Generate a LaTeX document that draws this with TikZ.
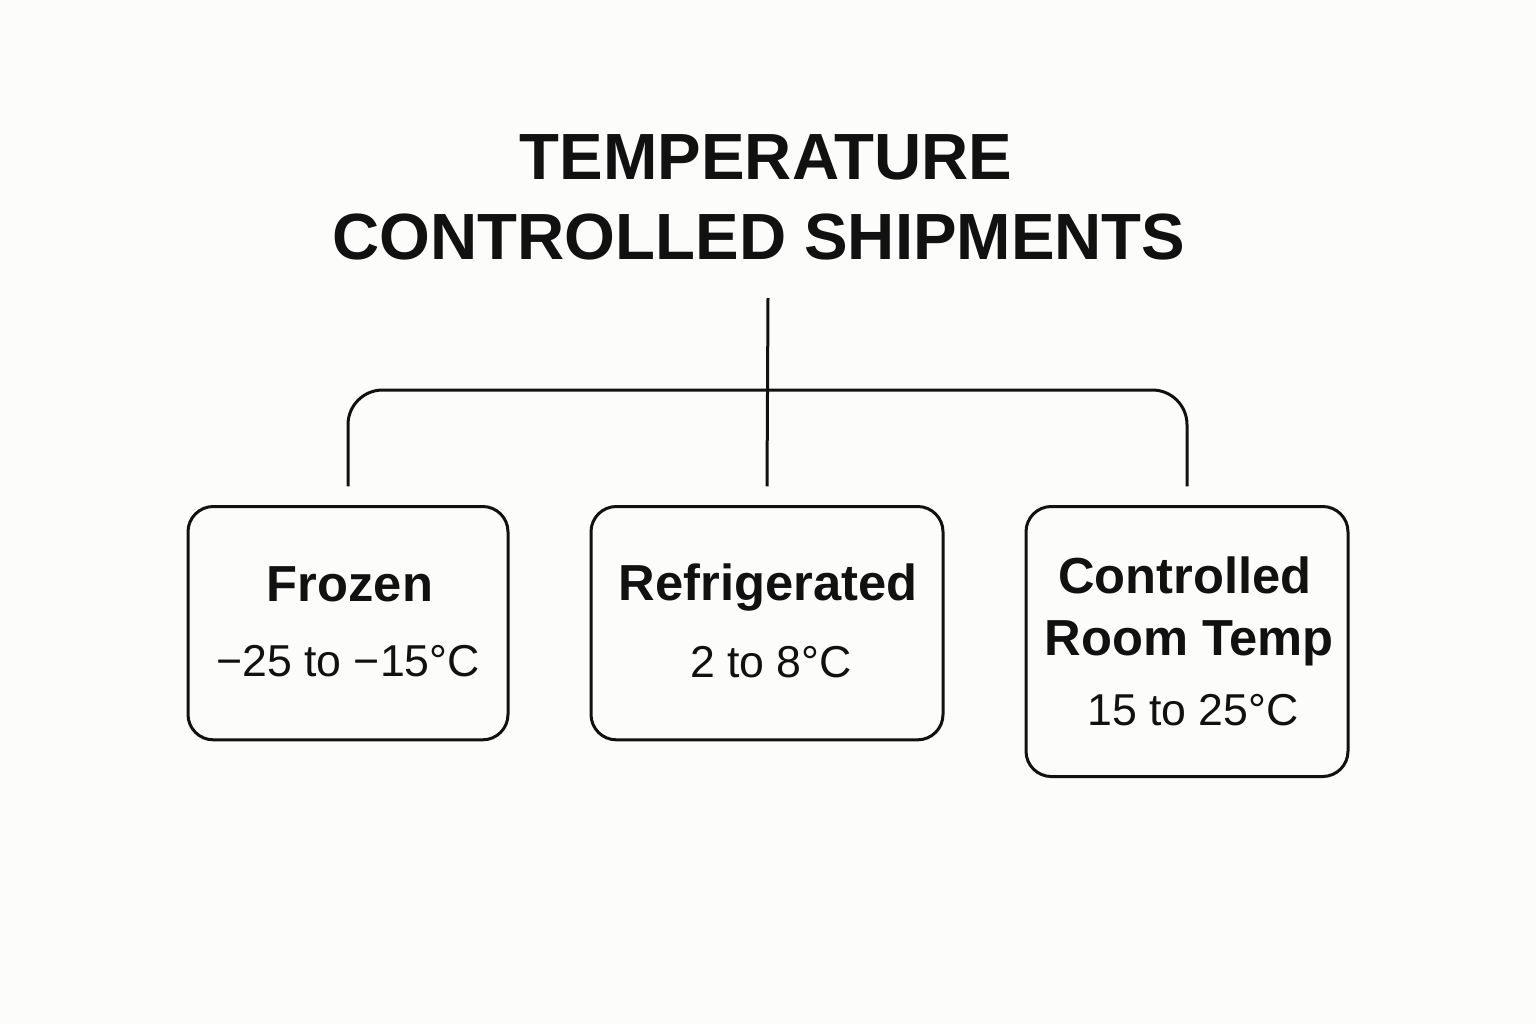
\documentclass[tikz,border=0pt]{standalone}
\usepackage{fontspec}
\setmainfont{Liberation Sans}
\definecolor{pagebg}{RGB}{252,252,250}
\definecolor{ink}{RGB}{17,17,17}
\tikzset{every picture/.style={line width=2.25pt}}
\tikzset{
  catbox/.style={draw=ink, rounded corners=19pt, minimum width=240pt, minimum height=175pt, anchor=north, inner sep=0pt},
  catname/.style={anchor=base, inner sep=0pt, text=ink, font=\fontsize{38}{46}\selectfont\bfseries},
  catrange/.style={anchor=base, inner sep=0pt, text=ink, font=\fontsize{33.5}{40}\selectfont},
  headline/.style={anchor=base, inner sep=0pt, text=ink, font=\fontsize{49}{58}\selectfont\bfseries}
}

\begin{document}
\begin{tikzpicture}[x=0.75pt,y=0.75pt,yscale=-1,xscale=1]
	\fill [pagebg] (0,0) rectangle (1536,1024);
	\useasboundingbox (0,0) rectangle (1536,1024);

	% title
	\node (head1) at (766,179) [headline] {TEMPERATURE};
	\node (head2) at (759,259) [headline] {CONTROLLED SHIPMENTS};

	% boxes
	\node (frz) at (348,505) [catbox] {};
	\node (refr) at (767,505) [catbox, minimum width=264pt] {};
	\node (crt) at (1187,505) [catbox, minimum width=241.5pt, minimum height=202.5pt] {};

	\node (frzname) at (350,601) [catname] {Frozen};
	\node (frzrange) at (348,676) [catrange] {−25 to −15°C};
	\node (refrname) at (768,600) [catname] {Refrigerated};
	\node (refrrange) at (771,677) [catrange] {2 to 8°C};
	\node (crtname) at (1185,593) [catname] {Controlled};
	\node (crtname2) at (1189,655) [catname] {Room Temp};
	\node (crtrange) at (1193,725) [catrange] {15 to 25°C};

	% connectors
	\coordinate (stem) at (768,298);
	\coordinate (bus) at (768,390);
	\draw [draw=ink] (stem) -- ([yshift=-14pt]refr.north);
	\draw [draw=ink, rounded corners=26pt] ([yshift=-14pt]frz.north) |- (bus) -| ([yshift=-14pt]crt.north);
\end{tikzpicture}
\end{document}
